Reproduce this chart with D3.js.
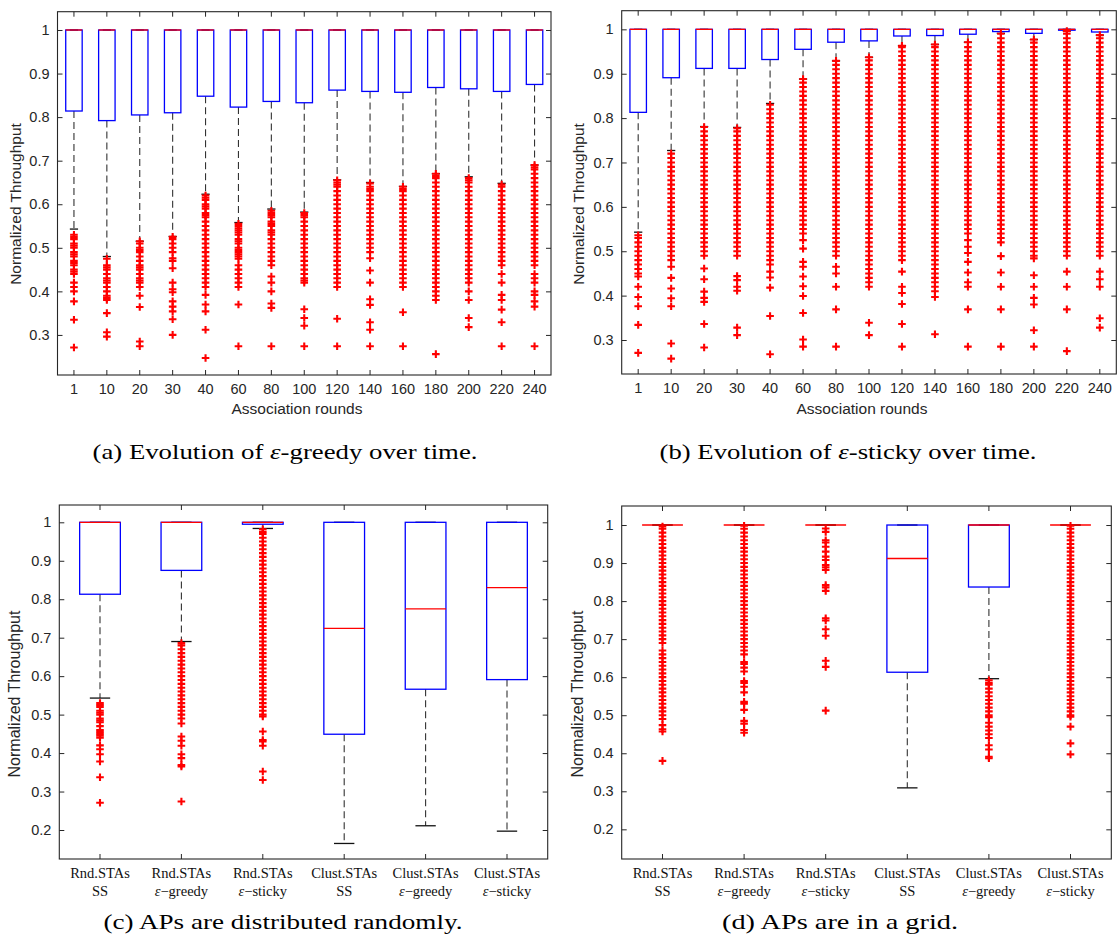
<!DOCTYPE html>
<html><head><meta charset="utf-8">
<script src="https://cdn.jsdelivr.net/npm/d3@7"></script>
<style>body{margin:0;background:#fff}</style>
</head><body>
<svg id="chart" width="1117" height="952"></svg>
<script>
// ---------- DATA ----------
const roundCats = ["1","10","20","30","40","60","80","100","120","140","160","180","200","220","240"];
const yTicksAB = [0.3,0.4,0.5,0.6,0.7,0.8,0.9,1];
const yTicksCD = [0.2,0.3,0.4,0.5,0.6,0.7,0.8,0.9,1];

// (a) epsilon-greedy over time
const aQ1  = [0.814,0.792,0.805,0.810,0.848,0.823,0.836,0.833,0.862,0.859,0.857,0.868,0.865,0.859,0.875];
const aMed = [1,1,1,1,1,1,1,1,1,1,1,1,1,1,1];
const aQ3  = [1,1,1,1,1,1,1,1,1,1,1,1,1,1,1];
const aLo  = [0.543,0.480,0.515,0.526,0.623,0.558,0.589,0.582,0.656,0.650,0.641,0.670,0.663,0.648,0.690];
const aHi  = [1,1,1,1,1,1,1,1,1,1,1,1,1,1,1];
const aOut = [
 [0.53,0.525,0.52,0.51,0.505,0.50,0.49,0.485,0.48,0.47,0.465,0.46,0.45,0.445,0.44,0.42,0.41,0.40,0.377,0.335,0.271],
 [0.475,0.46,0.455,0.45,0.44,0.43,0.425,0.42,0.41,0.40,0.39,0.385,0.38,0.35,0.306,0.296],
 [0.515,0.51,0.50,0.495,0.49,0.48,0.47,0.46,0.455,0.45,0.44,0.43,0.425,0.42,0.41,0.39,0.364,0.285,0.274],
 [0.525,0.52,0.51,0.50,0.49,0.476,0.47,0.453,0.42,0.405,0.398,0.377,0.365,0.354,0.336,0.30],
 [0.62,0.615,0.61,0.60,0.595,0.59,0.58,0.575,0.57,0.56,0.55,0.54,0.53,0.52,0.51,0.50,0.49,0.48,0.47,0.46,0.45,0.44,0.43,0.42,0.41,0.392,0.37,0.354,0.312,0.247],
 [0.555,0.55,0.545,0.54,0.535,0.53,0.52,0.515,0.51,0.50,0.495,0.49,0.485,0.48,0.475,0.46,0.45,0.44,0.43,0.42,0.41,0.37,0.274],
 [0.585,0.58,0.575,0.57,0.56,0.555,0.55,0.54,0.535,0.53,0.52,0.51,0.50,0.49,0.48,0.47,0.46,0.434,0.42,0.40,0.372,0.362,0.274],
 [0.58,0.575,0.57,0.56,0.55,0.54,0.53,0.52,0.51,0.50,0.49,0.48,0.47,0.46,0.45,0.44,0.43,0.425,0.42,0.359,0.339,0.321,0.274],
 [0.655,0.65,0.645,0.64,0.63,0.62,0.61,0.60,0.59,0.58,0.57,0.56,0.55,0.54,0.53,0.52,0.51,0.50,0.49,0.48,0.47,0.46,0.45,0.44,0.43,0.42,0.41,0.337,0.274],
 [0.648,0.64,0.635,0.63,0.62,0.61,0.60,0.59,0.58,0.57,0.56,0.55,0.54,0.53,0.52,0.51,0.50,0.49,0.476,0.448,0.42,0.382,0.369,0.329,0.312,0.274],
 [0.64,0.635,0.63,0.62,0.61,0.60,0.59,0.58,0.57,0.56,0.55,0.54,0.53,0.52,0.51,0.50,0.49,0.48,0.47,0.46,0.45,0.44,0.43,0.42,0.41,0.352,0.274],
 [0.67,0.665,0.66,0.65,0.64,0.63,0.62,0.61,0.60,0.59,0.58,0.57,0.56,0.55,0.54,0.53,0.52,0.51,0.50,0.49,0.48,0.47,0.46,0.45,0.44,0.43,0.42,0.41,0.40,0.39,0.38,0.256],
 [0.66,0.655,0.65,0.64,0.63,0.62,0.61,0.60,0.59,0.58,0.57,0.56,0.55,0.54,0.53,0.52,0.51,0.50,0.49,0.48,0.47,0.46,0.45,0.44,0.43,0.42,0.40,0.38,0.339,0.318],
 [0.645,0.64,0.63,0.62,0.61,0.60,0.59,0.58,0.57,0.56,0.55,0.54,0.53,0.52,0.51,0.50,0.49,0.48,0.47,0.46,0.44,0.42,0.392,0.38,0.358,0.329,0.274],
 [0.69,0.685,0.68,0.67,0.66,0.65,0.64,0.63,0.62,0.61,0.60,0.59,0.58,0.57,0.56,0.55,0.54,0.53,0.52,0.51,0.50,0.49,0.48,0.47,0.46,0.44,0.43,0.42,0.40,0.392,0.377,0.365,0.274]
];

// (b) epsilon-sticky over time
const bQ1  = [0.813,0.891,0.912,0.912,0.932,0.955,0.971,0.974,0.985,0.986,0.989,0.995,0.991,0.998,0.994];
const bMed = [1,1,1,1,1,1,1,1,1,1,1,1,1,1,1];
const bQ3  = [1,1,1,1,1,1,1,1,1,1,1,1,1,1,1];
const bLo  = [0.543,0.727,0.781,0.779,0.833,0.888,0.929,0.937,0.963,0.966,0.971,0.991,0.977,0.996,0.987];
const bHi  = [1,1,1,1,1,1,1,1,1,1,1,1,1,1,1];
const bOut = [
 [0.536,0.53,0.52,0.51,0.50,0.49,0.48,0.47,0.46,0.45,0.443,0.42,0.397,0.376,0.334,0.271],
 [0.72,0.71,0.70,0.69,0.68,0.67,0.66,0.65,0.64,0.63,0.62,0.61,0.60,0.59,0.58,0.57,0.56,0.55,0.54,0.53,0.52,0.51,0.50,0.49,0.48,0.465,0.44,0.416,0.394,0.376,0.292,0.258],
 [0.78,0.77,0.76,0.75,0.74,0.73,0.72,0.71,0.70,0.69,0.68,0.67,0.66,0.65,0.64,0.63,0.62,0.61,0.60,0.59,0.58,0.57,0.56,0.55,0.54,0.53,0.52,0.51,0.50,0.49,0.461,0.437,0.409,0.395,0.386,0.336,0.283],
 [0.777,0.77,0.76,0.75,0.74,0.73,0.72,0.71,0.70,0.69,0.68,0.67,0.66,0.65,0.64,0.63,0.62,0.61,0.60,0.59,0.58,0.57,0.56,0.55,0.54,0.53,0.52,0.51,0.50,0.49,0.444,0.435,0.42,0.411,0.328,0.311],
 [0.83,0.82,0.81,0.80,0.79,0.78,0.77,0.76,0.75,0.74,0.73,0.72,0.71,0.70,0.69,0.68,0.67,0.66,0.65,0.64,0.63,0.62,0.61,0.60,0.59,0.58,0.57,0.56,0.55,0.54,0.53,0.52,0.51,0.50,0.49,0.48,0.47,0.454,0.441,0.418,0.354,0.268],
 [0.888,0.88,0.87,0.86,0.85,0.84,0.83,0.82,0.81,0.80,0.79,0.78,0.77,0.76,0.75,0.74,0.73,0.72,0.71,0.70,0.69,0.68,0.67,0.66,0.65,0.64,0.63,0.62,0.61,0.60,0.59,0.58,0.57,0.56,0.55,0.54,0.525,0.506,0.476,0.465,0.443,0.421,0.399,0.361,0.301,0.285],
 [0.929,0.92,0.91,0.90,0.89,0.88,0.87,0.86,0.85,0.84,0.83,0.82,0.81,0.80,0.79,0.78,0.77,0.76,0.75,0.74,0.73,0.72,0.71,0.70,0.69,0.68,0.67,0.66,0.65,0.64,0.63,0.62,0.61,0.60,0.59,0.58,0.57,0.56,0.55,0.54,0.53,0.52,0.51,0.50,0.49,0.465,0.45,0.42,0.369,0.285],
 [0.937,0.93,0.92,0.91,0.90,0.89,0.88,0.87,0.86,0.85,0.84,0.83,0.82,0.81,0.80,0.79,0.78,0.77,0.76,0.75,0.74,0.73,0.72,0.71,0.70,0.69,0.68,0.67,0.66,0.65,0.64,0.63,0.62,0.61,0.60,0.59,0.58,0.57,0.56,0.55,0.54,0.53,0.52,0.51,0.50,0.49,0.48,0.47,0.46,0.45,0.44,0.43,0.42,0.339,0.311],
 [0.963,0.96,0.95,0.94,0.93,0.92,0.91,0.90,0.89,0.88,0.87,0.86,0.85,0.84,0.83,0.82,0.81,0.80,0.79,0.78,0.77,0.76,0.75,0.74,0.73,0.72,0.71,0.70,0.69,0.68,0.67,0.66,0.65,0.64,0.63,0.62,0.61,0.60,0.59,0.58,0.57,0.56,0.55,0.54,0.53,0.52,0.51,0.50,0.49,0.48,0.454,0.42,0.406,0.381,0.336,0.285],
 [0.966,0.96,0.95,0.94,0.93,0.92,0.91,0.90,0.89,0.88,0.87,0.86,0.85,0.84,0.83,0.82,0.81,0.80,0.79,0.78,0.77,0.76,0.75,0.74,0.73,0.72,0.71,0.70,0.69,0.68,0.67,0.66,0.65,0.64,0.63,0.62,0.61,0.60,0.59,0.58,0.57,0.56,0.55,0.54,0.53,0.52,0.51,0.50,0.49,0.48,0.47,0.46,0.45,0.44,0.43,0.42,0.41,0.397,0.313],
 [0.971,0.96,0.95,0.94,0.93,0.92,0.91,0.90,0.89,0.88,0.87,0.86,0.85,0.84,0.83,0.82,0.81,0.80,0.79,0.78,0.77,0.76,0.75,0.74,0.73,0.72,0.71,0.70,0.69,0.68,0.67,0.66,0.65,0.64,0.63,0.62,0.61,0.60,0.59,0.58,0.57,0.56,0.55,0.54,0.525,0.51,0.496,0.476,0.452,0.43,0.42,0.369,0.285],
 [0.99,0.98,0.97,0.96,0.95,0.94,0.93,0.92,0.91,0.90,0.89,0.88,0.87,0.86,0.85,0.84,0.83,0.82,0.81,0.80,0.79,0.78,0.77,0.76,0.75,0.74,0.73,0.72,0.71,0.70,0.69,0.68,0.67,0.66,0.65,0.64,0.63,0.62,0.61,0.60,0.59,0.58,0.57,0.56,0.55,0.54,0.53,0.52,0.489,0.452,0.42,0.369,0.285],
 [0.977,0.97,0.96,0.95,0.94,0.93,0.92,0.91,0.90,0.89,0.88,0.87,0.86,0.85,0.84,0.83,0.82,0.81,0.80,0.79,0.78,0.77,0.76,0.75,0.74,0.73,0.72,0.71,0.70,0.69,0.68,0.67,0.66,0.65,0.64,0.63,0.62,0.61,0.60,0.59,0.58,0.57,0.56,0.55,0.54,0.53,0.52,0.51,0.50,0.49,0.484,0.446,0.42,0.395,0.38,0.322,0.285],
 [0.996,0.99,0.98,0.97,0.96,0.95,0.94,0.93,0.92,0.91,0.90,0.89,0.88,0.87,0.86,0.85,0.84,0.83,0.82,0.81,0.80,0.79,0.78,0.77,0.76,0.75,0.74,0.73,0.72,0.71,0.70,0.69,0.68,0.67,0.66,0.65,0.64,0.63,0.62,0.61,0.60,0.59,0.58,0.57,0.56,0.55,0.54,0.53,0.52,0.51,0.50,0.49,0.454,0.42,0.369,0.275],
 [0.987,0.98,0.97,0.96,0.95,0.94,0.93,0.92,0.91,0.90,0.89,0.88,0.87,0.86,0.85,0.84,0.83,0.82,0.81,0.80,0.79,0.78,0.77,0.76,0.75,0.74,0.73,0.72,0.71,0.70,0.69,0.68,0.67,0.66,0.65,0.64,0.63,0.62,0.61,0.60,0.59,0.58,0.57,0.56,0.55,0.54,0.53,0.52,0.51,0.50,0.49,0.454,0.437,0.42,0.349,0.328]
];

// (c) and (d) scenario categories (two-line labels)
const scenLine1 = ["Rnd.STAs","Rnd.STAs","Rnd.STAs","Clust.STAs","Clust.STAs","Clust.STAs"];
const scenLine2 = ["SS","ε−greedy","ε−sticky","SS","ε−greedy","ε−sticky"];

// (c) APs distributed randomly
const cQ1  = [0.813,0.875,0.995,0.449,0.566,0.591];
const cMed = [1,1,1,0.724,0.775,0.830];
const cQ3  = [1,1,1,1,1,1];
const cLo  = [0.543,0.690,0.984,0.165,0.211,0.197];
const cHi  = [1,1,1,1,1,1];
const cOut = [
 [0.53,0.525,0.52,0.51,0.505,0.50,0.49,0.485,0.48,0.47,0.46,0.455,0.45,0.445,0.44,0.42,0.41,0.397,0.378,0.337,0.271],
 [0.686,0.68,0.67,0.66,0.65,0.64,0.63,0.62,0.61,0.60,0.59,0.58,0.57,0.56,0.55,0.54,0.53,0.52,0.51,0.50,0.49,0.477,0.443,0.432,0.419,0.397,0.387,0.369,0.365,0.274],
 [0.982,0.975,0.97,0.96,0.95,0.94,0.93,0.92,0.91,0.90,0.89,0.88,0.87,0.86,0.85,0.84,0.83,0.82,0.81,0.80,0.79,0.78,0.77,0.76,0.75,0.74,0.73,0.72,0.71,0.70,0.69,0.68,0.67,0.66,0.65,0.64,0.63,0.62,0.61,0.60,0.59,0.58,0.57,0.56,0.55,0.54,0.53,0.52,0.51,0.50,0.495,0.456,0.434,0.43,0.419,0.352,0.33],
 [],[],[]
];

// (d) APs in a grid
const dQ1  = [1,1,1,0.613,0.837,1];
const dMed = [1,1,1,0.912,1,1];
const dQ3  = [1,1,1,1,1,1];
const dLo  = [1,1,1,0.309,0.596,1];
const dHi  = [1,1,1,1,1,1];
const dOut = [
 [0.996,0.99,0.98,0.97,0.96,0.95,0.94,0.93,0.92,0.91,0.90,0.89,0.88,0.87,0.86,0.85,0.84,0.83,0.82,0.81,0.80,0.79,0.78,0.77,0.76,0.75,0.74,0.73,0.72,0.71,0.70,0.69,0.67,0.66,0.65,0.64,0.63,0.62,0.61,0.60,0.59,0.58,0.57,0.56,0.55,0.54,0.53,0.52,0.51,0.50,0.49,0.474,0.463,0.457,0.38],
 [0.998,0.99,0.98,0.97,0.96,0.95,0.94,0.93,0.92,0.91,0.90,0.89,0.88,0.87,0.86,0.85,0.84,0.83,0.82,0.81,0.80,0.79,0.78,0.77,0.76,0.75,0.74,0.73,0.72,0.71,0.70,0.69,0.68,0.67,0.66,0.64,0.635,0.625,0.615,0.59,0.585,0.575,0.56,0.535,0.53,0.514,0.485,0.478,0.461,0.454],
 [0.991,0.982,0.96,0.954,0.943,0.93,0.917,0.908,0.895,0.889,0.882,0.842,0.836,0.827,0.755,0.749,0.726,0.709,0.643,0.627,0.512],
 [],
 [0.592,0.585,0.58,0.57,0.56,0.55,0.54,0.53,0.52,0.51,0.50,0.495,0.48,0.47,0.46,0.45,0.44,0.421,0.41,0.391,0.387],
 [0.998,0.99,0.98,0.97,0.96,0.95,0.94,0.93,0.92,0.91,0.90,0.89,0.88,0.87,0.86,0.85,0.84,0.83,0.82,0.81,0.80,0.79,0.78,0.77,0.76,0.75,0.74,0.73,0.72,0.71,0.70,0.69,0.68,0.67,0.66,0.65,0.64,0.63,0.62,0.61,0.60,0.59,0.58,0.57,0.56,0.55,0.54,0.53,0.52,0.51,0.50,0.496,0.47,0.426,0.397]
];

// ---------- LAYOUT ----------
const INK = "#262626";
const SANS = "'Liberation Sans', Arial, Helvetica, sans-serif";
const SERIF = "'Liberation Serif', 'Times New Roman', serif";

const svg = d3.select("#chart");

function drawPanel(L, D) {
  const n = D.q1.length;
  const x = d3.scaleBand().domain(d3.range(n)).range([L.x0, L.x1]).paddingInner(0).paddingOuter(0);
  const y = d3.scaleLinear().domain(L.ydom).range([L.y1, L.y0]);
  const bw = x.bandwidth(), boxW = bw * 0.5, capW = bw * 0.25;
  const cx = i => x(i) + bw / 2;
  const g = svg.append("g");

  const fmt = d3.format("~g");
  const left = g.append("g").attr("transform", `translate(${L.x0},0)`)
    .call(d3.axisLeft(y).tickValues(L.yticks).tickSize(-5).tickSizeOuter(0).tickPadding(8).tickFormat(fmt));
  const right = g.append("g").attr("transform", `translate(${L.x1},0)`)
    .call(d3.axisRight(y).tickValues(L.yticks).tickSize(-5).tickSizeOuter(0).tickFormat(""));
  const bottom = g.append("g").attr("transform", `translate(0,${L.y1})`)
    .call(d3.axisBottom(x).tickSize(-5).tickSizeOuter(0).tickPadding(9).tickFormat(i => D.labels ? D.labels[i] : ""));
  const top = g.append("g").attr("transform", `translate(0,${L.y0})`)
    .call(d3.axisTop(x).tickSize(-5).tickSizeOuter(0).tickFormat(""));
  [left, right, bottom, top].forEach(a => {
    a.select(".domain").remove();
    a.selectAll("line").attr("stroke", INK).attr("stroke-width", 1);
    a.selectAll("text").attr("fill", INK).style("font-family", SANS).style("font-size", "14.5px");
  });
  g.append("rect").attr("x", L.x0).attr("y", L.y0).attr("width", L.x1 - L.x0).attr("height", L.y1 - L.y0)
    .attr("fill", "none").attr("stroke", INK).attr("stroke-width", 1.1);

  if (D.line1) {
    const tl = g.append("g");
    d3.range(n).forEach(i => {
      const t = tl.append("text").attr("text-anchor", "middle")
        .style("font-family", SERIF).style("font-size", "14.5px").attr("fill", "#111");
      t.append("tspan").attr("x", cx(i)).attr("y", L.lab1Y).text(D.line1[i]);
      const s = D.line2[i];
      const t2 = t.append("tspan").attr("x", cx(i)).attr("y", L.lab2Y);
      if (s.startsWith("ε")) {
        t2.style("font-style", "italic").text("ε");
        t.append("tspan").text(s.slice(1));
      } else t2.text(s);
    });
  }

  g.append("text").attr("transform", `translate(${L.ylabX},${L.ylabY}) rotate(-90)`)
    .attr("text-anchor", "middle").attr("fill", INK)
    .style("font-family", SANS).style("font-size", L.ylabSize + "px").text("Normalized Throughput");
  if (L.xlab) {
    g.append("text").attr("x", L.xlabX).attr("y", L.xlabY).attr("text-anchor", "middle").attr("fill", INK)
      .style("font-family", SANS).style("font-size", "15.5px").text(L.xlab);
  }

  const idx = d3.range(n);
  g.selectAll(".wl").data(idx).join("line")
    .attr("x1", cx).attr("x2", cx).attr("y1", i => y(D.q1[i])).attr("y2", i => y(D.lo[i]))
    .attr("stroke", "#333").attr("stroke-width", 1.1).attr("stroke-dasharray", "7,4");
  g.selectAll(".wh").data(idx).join("line")
    .attr("x1", cx).attr("x2", cx).attr("y1", i => y(D.q3[i])).attr("y2", i => y(D.hi[i]))
    .attr("stroke", "#333").attr("stroke-width", 1.1).attr("stroke-dasharray", "7,4");
  ["lo", "hi"].forEach(k => {
    g.selectAll(".cap" + k).data(idx).join("line")
      .attr("x1", i => cx(i) - capW / 2).attr("x2", i => cx(i) + capW / 2)
      .attr("y1", i => y(D[k][i])).attr("y2", i => y(D[k][i]))
      .attr("stroke", "#111").attr("stroke-width", 1.3);
  });
  g.selectAll(".box").data(idx).join("rect")
    .attr("x", i => cx(i) - boxW / 2).attr("width", boxW)
    .attr("y", i => y(D.q3[i])).attr("height", i => y(D.q1[i]) - y(D.q3[i]))
    .attr("fill", "none").attr("stroke", "#0000ff").attr("stroke-width", 1.3);
  g.selectAll(".med").data(idx).join("line")
    .attr("x1", i => cx(i) - boxW / 2).attr("x2", i => cx(i) + boxW / 2)
    .attr("y1", i => y(D.med[i])).attr("y2", i => y(D.med[i]))
    .attr("stroke", "#ff0000").attr("stroke-width", 1.3);
  const pts = [];
  D.out.forEach((arr, i) => arr.forEach(v => pts.push({ i, v })));
  const s = 3.8;
  g.selectAll(".out").data(pts).join("path")
    .attr("d", p => { const px = cx(p.i), py = y(p.v);
      return `M${px - s},${py}H${px + s}M${px},${py - s}V${py + s}`; })
    .attr("stroke", "#ff0000").attr("stroke-width", 2.1).attr("fill", "none");
}

drawPanel(
  { x0: 57.5, x1: 551, y0: 11.7, y1: 375, ydom: [0.208, 1.042], yticks: yTicksAB,
    ylabX: 21, ylabY: 204, ylabSize: 15.5, xlab: "Association rounds", xlabX: 297, xlabY: 413.5 },
  { q1: aQ1, med: aMed, q3: aQ3, lo: aLo, hi: aHi, out: aOut, labels: roundCats });
drawPanel(
  { x0: 621.7, x1: 1116.3, y0: 10.7, y1: 374, ydom: [0.2234, 1.042], yticks: yTicksAB,
    ylabX: 583.5, ylabY: 204, ylabSize: 15.5, xlab: "Association rounds", xlabX: 862, xlabY: 413.5 },
  { q1: bQ1, med: bMed, q3: bQ3, lo: bLo, hi: bHi, out: bOut, labels: roundCats });
drawPanel(
  { x0: 59.3, x1: 547.7, y0: 505, y1: 859, ydom: [0.1246, 1.045], yticks: yTicksCD,
    ylabX: 20, ylabY: 694, ylabSize: 16, lab1Y: 878, lab2Y: 896 },
  { q1: cQ1, med: cMed, q3: cQ3, lo: cLo, hi: cHi, out: cOut, line1: scenLine1, line2: scenLine2 });
drawPanel(
  { x0: 621.7, x1: 1111.3, y0: 506, y1: 859, ydom: [0.122, 1.05], yticks: yTicksCD,
    ylabX: 582.5, ylabY: 694, ylabSize: 16, lab1Y: 878, lab2Y: 896 },
  { q1: dQ1, med: dMed, q3: dQ3, lo: dLo, hi: dHi, out: dOut, line1: scenLine1, line2: scenLine2 });

// captions
const captions = [
  { x: 285, y: 459, w: 385, pre: "(a) Evolution of ", post: "-greedy over time." },
  { x: 848, y: 459, w: 377, pre: "(b) Evolution of ", post: "-sticky over time." },
  { x: 283, y: 929, w: 359, pre: "(c) APs are distributed randomly.", post: null },
  { x: 840, y: 929, w: 236, pre: "(d) APs are in a grid.", post: null }
];
captions.forEach(c => {
  const t = svg.append("text").attr("x", c.x).attr("y", c.y).attr("text-anchor", "middle")
    .attr("textLength", c.w).attr("lengthAdjust", "spacingAndGlyphs")
    .style("font-family", SERIF).style("font-size", "22px").attr("fill", "#000");
  t.append("tspan").text(c.pre);
  if (c.post !== null) {
    t.append("tspan").style("font-style", "italic").text("ε");
    t.append("tspan").text(c.post);
  }
});
</script>
</body></html>
